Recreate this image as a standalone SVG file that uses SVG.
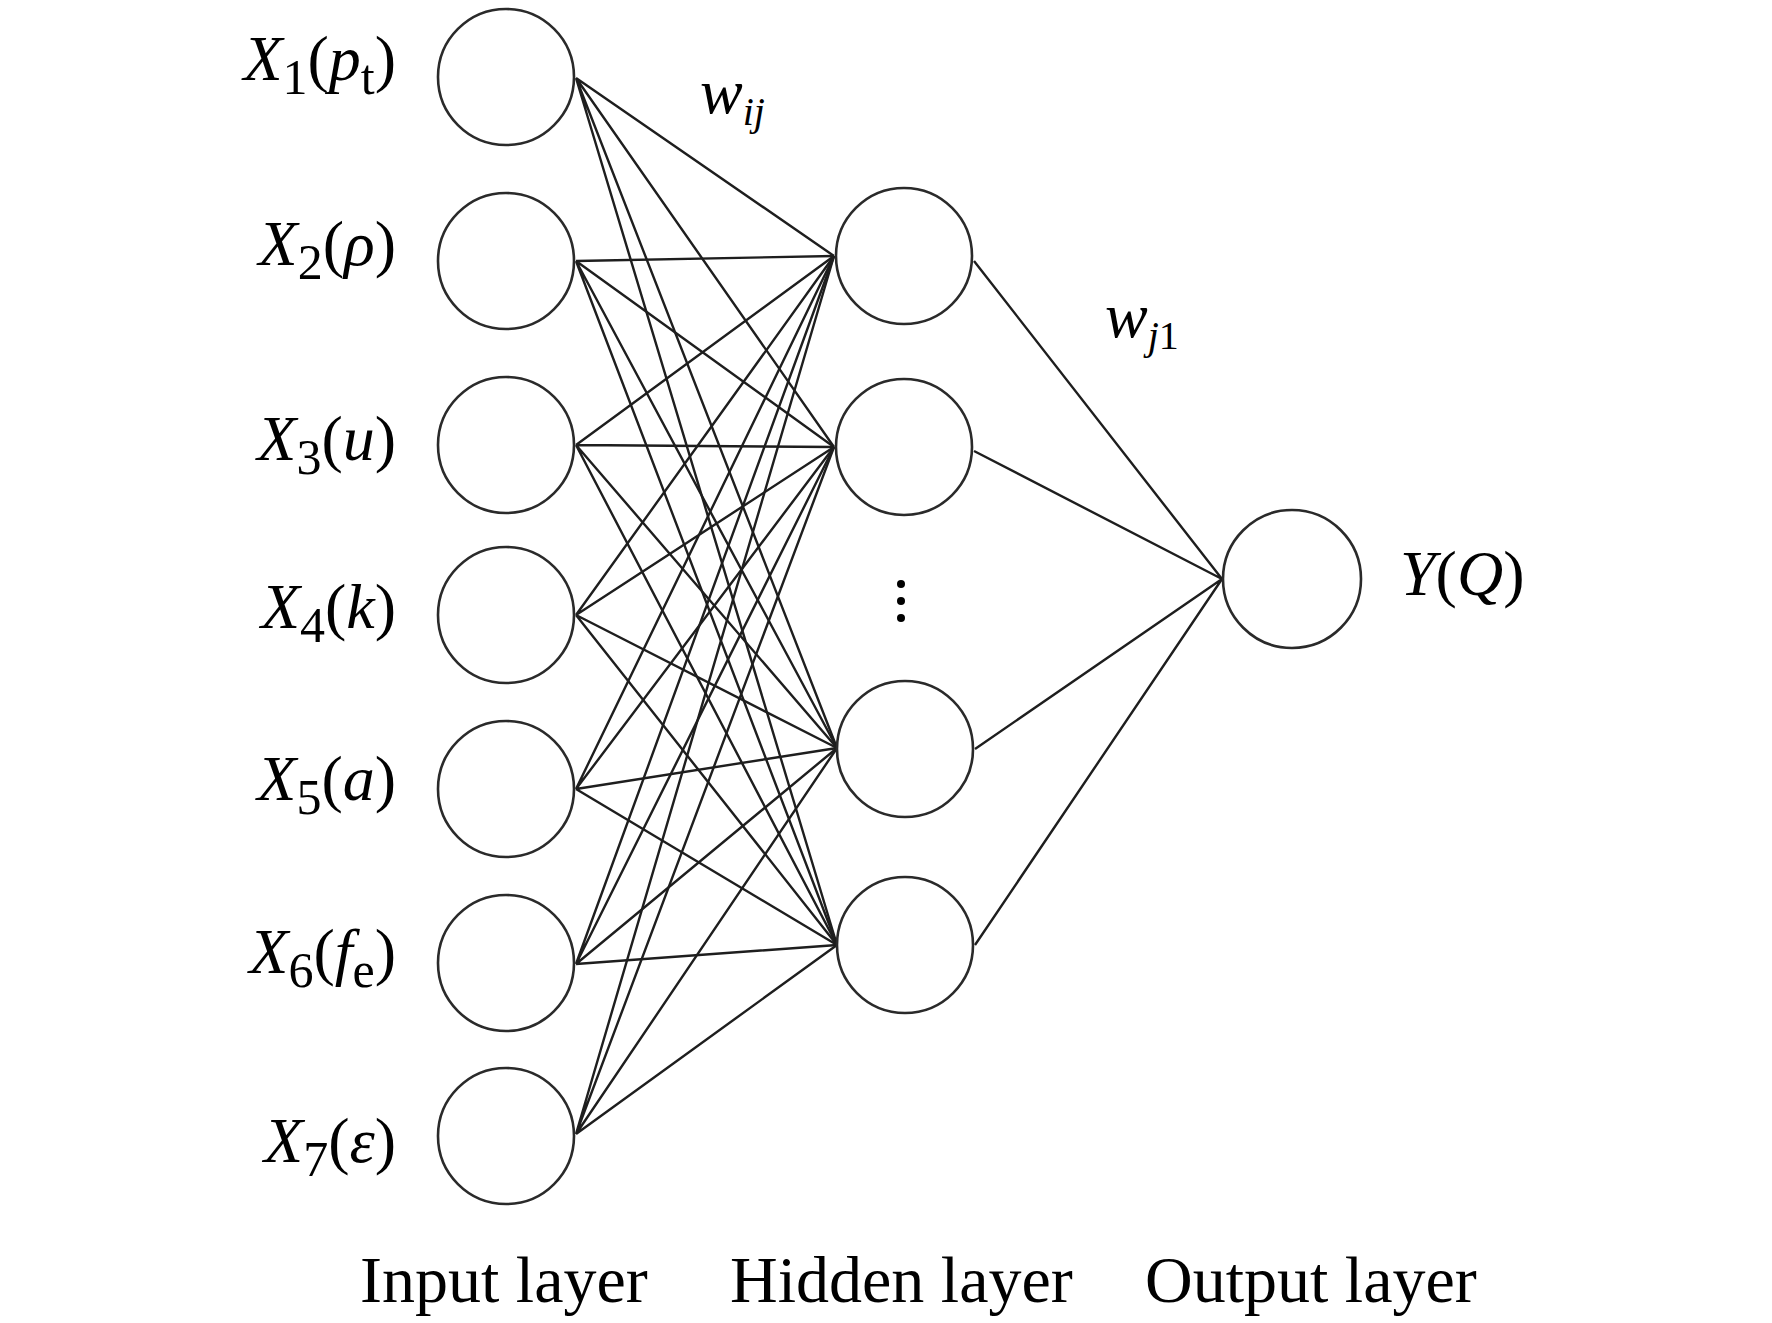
<svg xmlns="http://www.w3.org/2000/svg" width="1772" height="1323" viewBox="0 0 1772 1323">
<style>
.node{fill:#fff;stroke:#2a2a2a;stroke-width:2.6}
.edge{stroke:#1e1e1e;stroke-width:2.4;fill:none}
.lbl{font-family:"Liberation Serif","Times New Roman",serif;font-size:64px;fill:#000}
.it{font-style:italic}
.sub{font-size:50px}
.wsub{font-size:40px}
.cap{font-family:"Liberation Serif","Times New Roman",serif;font-size:66px;fill:#000}
</style>
<rect width="1772" height="1323" fill="#fff"/>
<g id="connectors" class="edge">
<path d="M576 78L834 256M576 78L834 447M576 78L837 748M576 78L837 945"/>
<path d="M576 261L834 256M576 261L834 447M576 261L837 748M576 261L837 945"/>
<path d="M576 445L834 256M576 445L834 447M576 445L837 748M576 445L837 945"/>
<path d="M576 615L834 256M576 615L834 447M576 615L837 748M576 615L837 945"/>
<path d="M576 789L834 256M576 789L834 447M576 789L837 748M576 789L837 945"/>
<path d="M576 964L834 256M576 964L834 447M576 964L837 748M576 964L837 945"/>
<path d="M576 1134L834 256M576 1134L834 447M576 1134L837 748M576 1134L837 945"/>
<path d="M974 261L1222 579M974 451L1222 579M975 749L1222 579M975 945L1222 579"/>
</g>
<g id="in1"><circle class="node" cx="506" cy="77" r="68"/><text class="lbl" x="396" y="80" text-anchor="end"><tspan class="it">X</tspan><tspan class="sub" dy="14">1</tspan><tspan dy="-14">(</tspan><tspan class="it">p</tspan><tspan class="sub" dy="14">t</tspan><tspan dy="-14">)</tspan></text></g>
<g id="in2"><circle class="node" cx="506" cy="261" r="68"/><text class="lbl" x="396" y="265" text-anchor="end"><tspan class="it">X</tspan><tspan class="sub" dy="14">2</tspan><tspan dy="-14">(</tspan><tspan class="it">ρ</tspan>)</text></g>
<g id="in3"><circle class="node" cx="506" cy="445" r="68"/><text class="lbl" x="396" y="460" text-anchor="end"><tspan class="it">X</tspan><tspan class="sub" dy="14">3</tspan><tspan dy="-14">(</tspan><tspan class="it">u</tspan>)</text></g>
<g id="in4"><circle class="node" cx="506" cy="615" r="68"/><text class="lbl" x="396" y="628" text-anchor="end"><tspan class="it">X</tspan><tspan class="sub" dy="14">4</tspan><tspan dy="-14">(</tspan><tspan class="it">k</tspan>)</text></g>
<g id="in5"><circle class="node" cx="506" cy="789" r="68"/><text class="lbl" x="396" y="800" text-anchor="end"><tspan class="it">X</tspan><tspan class="sub" dy="14">5</tspan><tspan dy="-14">(</tspan><tspan class="it">a</tspan>)</text></g>
<g id="in6"><circle class="node" cx="506" cy="963" r="68"/><text class="lbl" x="396" y="973" text-anchor="end"><tspan class="it">X</tspan><tspan class="sub" dy="14">6</tspan><tspan dy="-14">(</tspan><tspan class="it">f</tspan><tspan class="sub" dy="14">e</tspan><tspan dy="-14">)</tspan></text></g>
<g id="in7"><circle class="node" cx="506" cy="1136" r="68"/><text class="lbl" x="396" y="1162" text-anchor="end"><tspan class="it">X</tspan><tspan class="sub" dy="14">7</tspan><tspan dy="-14">(</tspan><tspan class="it">ε</tspan>)</text></g>
<g id="h1"><circle class="node" cx="904" cy="256" r="68"/></g>
<g id="h2"><circle class="node" cx="904" cy="447" r="68"/></g>
<g id="hdots"><circle cx="901" cy="584" r="4" fill="#000"/><circle cx="901" cy="601" r="4" fill="#000"/><circle cx="901" cy="618" r="4" fill="#000"/></g>
<g id="h3"><circle class="node" cx="905" cy="749" r="68"/></g>
<g id="h4"><circle class="node" cx="905" cy="945" r="68"/></g>
<g id="out"><circle class="node" cx="1292" cy="579" r="69"/><text class="lbl" x="1400" y="595"><tspan class="it">Y</tspan>(<tspan class="it">Q</tspan>)</text></g>
<g id="wij"><text class="lbl it" x="700" y="113" style="font-size:64px">w<tspan class="wsub" dy="12">ij</tspan></text></g>
<g id="wj1"><text class="lbl" x="1105" y="337" style="font-size:64px"><tspan class="it">w</tspan><tspan class="wsub it" dy="12">j</tspan><tspan class="wsub">1</tspan></text></g>
<g id="captions">
<text class="cap" x="360" y="1302">Input layer</text>
<text class="cap" x="730" y="1302">Hidden layer</text>
<text class="cap" x="1145" y="1302">Output layer</text>
</g>
</svg>
